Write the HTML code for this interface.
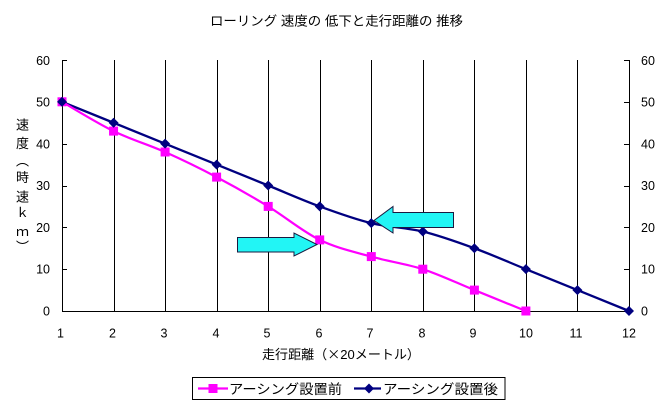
<!DOCTYPE html>
<html><head><meta charset="utf-8">
<style>
html,body{margin:0;padding:0;background:#fff;}
svg{display:block;}
text{font-family:"Liberation Sans","Noto Sans CJK JP",sans-serif;fill:#000;}
.cjk{font-family:"Noto Sans CJK JP",sans-serif;}
</style></head>
<body>
<svg width="668" height="406" viewBox="0 0 668 406" xmlns="http://www.w3.org/2000/svg">
<rect width="668" height="406" fill="#fff"/>
<!-- title -->
<text x="210" y="25.5" font-size="13" textLength="253" lengthAdjust="spacingAndGlyphs">ローリング 速度の 低下と走行距離の 推移</text>

<!-- grid / axes -->
<g stroke="#000" stroke-width="1" shape-rendering="crispEdges">
<line x1="62.5" y1="60" x2="62.5" y2="312"/>
<line x1="629.5" y1="60" x2="629.5" y2="312"/>
<line x1="62" y1="311.5" x2="630" y2="311.5"/>
<line x1="114.5" y1="60" x2="114.5" y2="311"/>
<line x1="165.5" y1="60" x2="165.5" y2="311"/>
<line x1="217.5" y1="60" x2="217.5" y2="311"/>
<line x1="268.5" y1="60" x2="268.5" y2="311"/>
<line x1="320.5" y1="60" x2="320.5" y2="311"/>
<line x1="371.5" y1="60" x2="371.5" y2="311"/>
<line x1="423.5" y1="60" x2="423.5" y2="311"/>
<line x1="474.5" y1="60" x2="474.5" y2="311"/>
<line x1="526.5" y1="60" x2="526.5" y2="311"/>
<line x1="577.5" y1="60" x2="577.5" y2="311"/>
<!-- left ticks -->
<line x1="62" y1="60.5" x2="67" y2="60.5"/>
<line x1="62" y1="102.5" x2="67" y2="102.5"/>
<line x1="62" y1="144.5" x2="67" y2="144.5"/>
<line x1="62" y1="186.5" x2="67" y2="186.5"/>
<line x1="62" y1="227.5" x2="67" y2="227.5"/>
<line x1="62" y1="269.5" x2="67" y2="269.5"/>
<!-- right ticks -->
<line x1="624" y1="60.5" x2="629" y2="60.5"/>
<line x1="624" y1="102.5" x2="629" y2="102.5"/>
<line x1="624" y1="144.5" x2="629" y2="144.5"/>
<line x1="624" y1="186.5" x2="629" y2="186.5"/>
<line x1="624" y1="227.5" x2="629" y2="227.5"/>
<line x1="624" y1="269.5" x2="629" y2="269.5"/>
</g>

<!-- left tick labels -->
<g font-size="12.5" text-anchor="end">
<text x="50" y="65">60</text>
<text x="50" y="106.5">50</text>
<text x="50" y="148.5">40</text>
<text x="50" y="190">30</text>
<text x="50" y="232">20</text>
<text x="50" y="273.5">10</text>
<text x="50" y="315.5">0</text>
</g>
<!-- right tick labels -->
<g font-size="12.5" text-anchor="start">
<text x="641" y="65">60</text>
<text x="641" y="106.5">50</text>
<text x="641" y="148.5">40</text>
<text x="641" y="190">30</text>
<text x="641" y="232">20</text>
<text x="641" y="273.5">10</text>
<text x="641" y="315.5">0</text>
</g>
<!-- x tick labels -->
<g font-size="12.5" text-anchor="middle">
<text x="60.5" y="337.5">1</text>
<text x="112.5" y="337.5">2</text>
<text x="164" y="337.5">3</text>
<text x="216" y="337.5">4</text>
<text x="267" y="337.5">5</text>
<text x="319" y="337.5">6</text>
<text x="370" y="337.5">7</text>
<text x="422" y="337.5">8</text>
<text x="473" y="337.5">9</text>
<text x="526" y="337.5">10</text>
<text x="576" y="337.5">11</text>
<text x="629" y="337.5">12</text>
</g>

<!-- x axis title -->
<text x="262" y="359" font-size="13" textLength="158" lengthAdjust="spacingAndGlyphs">走行距離（<tspan class="cjk">×</tspan>20メートル）</text>

<!-- y axis title (vertical) -->
<g font-size="13" text-anchor="middle">
<text x="22.5" y="129.5">速</text>
<text x="22.5" y="148">度</text>
<text x="22.5" y="165.5">︵</text>
<text x="22.5" y="182">時</text>
<text x="22.5" y="201.5">速</text>
<text x="22.5" y="217">ｋ</text>
<text x="22.5" y="236">ｍ</text>
<text x="22.5" y="251.5">︶</text>
</g>

<!-- navy series -->
<path d="M62,101.83 L113.55,122.75 L165.09,143.67 L216.64,164.58 L268.18,185.5
C285.36,192.47 302.55,200.14 319.73,206.42
C336.91,212.70 354.09,218.97 371.27,223.15
C388.45,227.33 405.64,227.34 422.82,231.52
C440.0,235.70 457.18,241.97 474.36,248.25
C491.54,254.53 508.73,262.19 525.91,269.17
C543.09,276.14 560.27,283.11 577.45,290.08
C594.63,297.05 620.41,307.51 629,311" fill="none" stroke="#000080" stroke-width="2.3"/>

<!-- pink series -->
<path d="M62,101.83 C70.59,106.71 96.37,122.75 113.55,131.12
C130.73,139.49 147.91,144.36 165.09,152.03
C182.27,159.70 199.46,168.06 216.64,177.13
C233.82,186.20 251.0,195.96 268.18,206.42
C285.36,216.88 302.55,231.51 319.73,239.88
C336.91,248.25 354.09,251.74 371.27,256.62
C388.45,261.50 405.64,263.59 422.82,269.17
C440.0,274.75 457.18,283.11 474.36,290.08
C491.54,297.05 517.32,307.51 525.91,311" fill="none" stroke="#FF00FF" stroke-width="2.2"/>

<!-- pink markers -->
<g fill="#FF00FF">
<rect x="57.5" y="97.3" width="9" height="9"/>
<rect x="109.05" y="126.6" width="9" height="9"/>
<rect x="160.6" y="147.5" width="9" height="9"/>
<rect x="212.1" y="172.6" width="9" height="9"/>
<rect x="263.7" y="201.9" width="9" height="9"/>
<rect x="315.2" y="235.4" width="9" height="9"/>
<rect x="366.8" y="252.1" width="9" height="9"/>
<rect x="418.3" y="264.7" width="9" height="9"/>
<rect x="469.9" y="285.6" width="9" height="9"/>
<rect x="521.4" y="306.5" width="9" height="9"/>
</g>

<!-- navy markers -->
<g fill="#000080">
<polygon points="57,101.83 62,96.8 67,101.83 62,106.8"/>
<polygon points="108.55,122.75 113.55,117.75 118.55,122.75 113.55,127.75"/>
<polygon points="160.09,143.67 165.09,138.67 170.09,143.67 165.09,148.67"/>
<polygon points="211.64,164.58 216.64,159.58 221.64,164.58 216.64,169.58"/>
<polygon points="263.18,185.5 268.18,180.5 273.18,185.5 268.18,190.5"/>
<polygon points="314.73,206.42 319.73,201.42 324.73,206.42 319.73,211.42"/>
<polygon points="366.27,223.15 371.27,218.15 376.27,223.15 371.27,228.15"/>
<polygon points="417.82,231.52 422.82,226.52 427.82,231.52 422.82,236.52"/>
<polygon points="469.36,248.25 474.36,243.25 479.36,248.25 474.36,253.25"/>
<polygon points="520.91,269.17 525.91,264.17 530.91,269.17 525.91,274.17"/>
<polygon points="572.45,290.08 577.45,285.08 582.45,290.08 577.45,295.08"/>
<polygon points="624,311 629,306 634,311 629,316"/>
</g>

<!-- arrows -->
<polygon points="237.5,237.5 294,237.5 294,233 317,244.5 294,256 294,252 237.5,252" fill="#22F5F5" stroke="#1a1a40" stroke-width="1"/>
<polygon points="453.5,212.5 393,212.5 393,206.5 374,220.5 393,233 393,227.5 453.5,227.5" fill="#22F5F5" stroke="#1a1a40" stroke-width="1"/>

<!-- legend -->
<rect x="192.5" y="377.5" width="312.5" height="22" fill="#fff" stroke="#000" stroke-width="1" shape-rendering="crispEdges"/>
<line x1="198" y1="388.5" x2="228" y2="388.5" stroke="#FF00FF" stroke-width="2.2"/>
<rect x="208.5" y="384" width="9" height="9" fill="#FF00FF"/>
<text x="229" y="394" font-size="13.5" textLength="113" lengthAdjust="spacingAndGlyphs">アーシング設置前</text>
<line x1="354" y1="388.5" x2="381" y2="388.5" stroke="#000080" stroke-width="2.3"/>
<polygon points="364,388.5 369,383.5 374,388.5 369,393.5" fill="#000080"/>
<text x="383" y="394" font-size="13.5" textLength="115" lengthAdjust="spacingAndGlyphs">アーシング設置後</text>
</svg>
</body></html>
